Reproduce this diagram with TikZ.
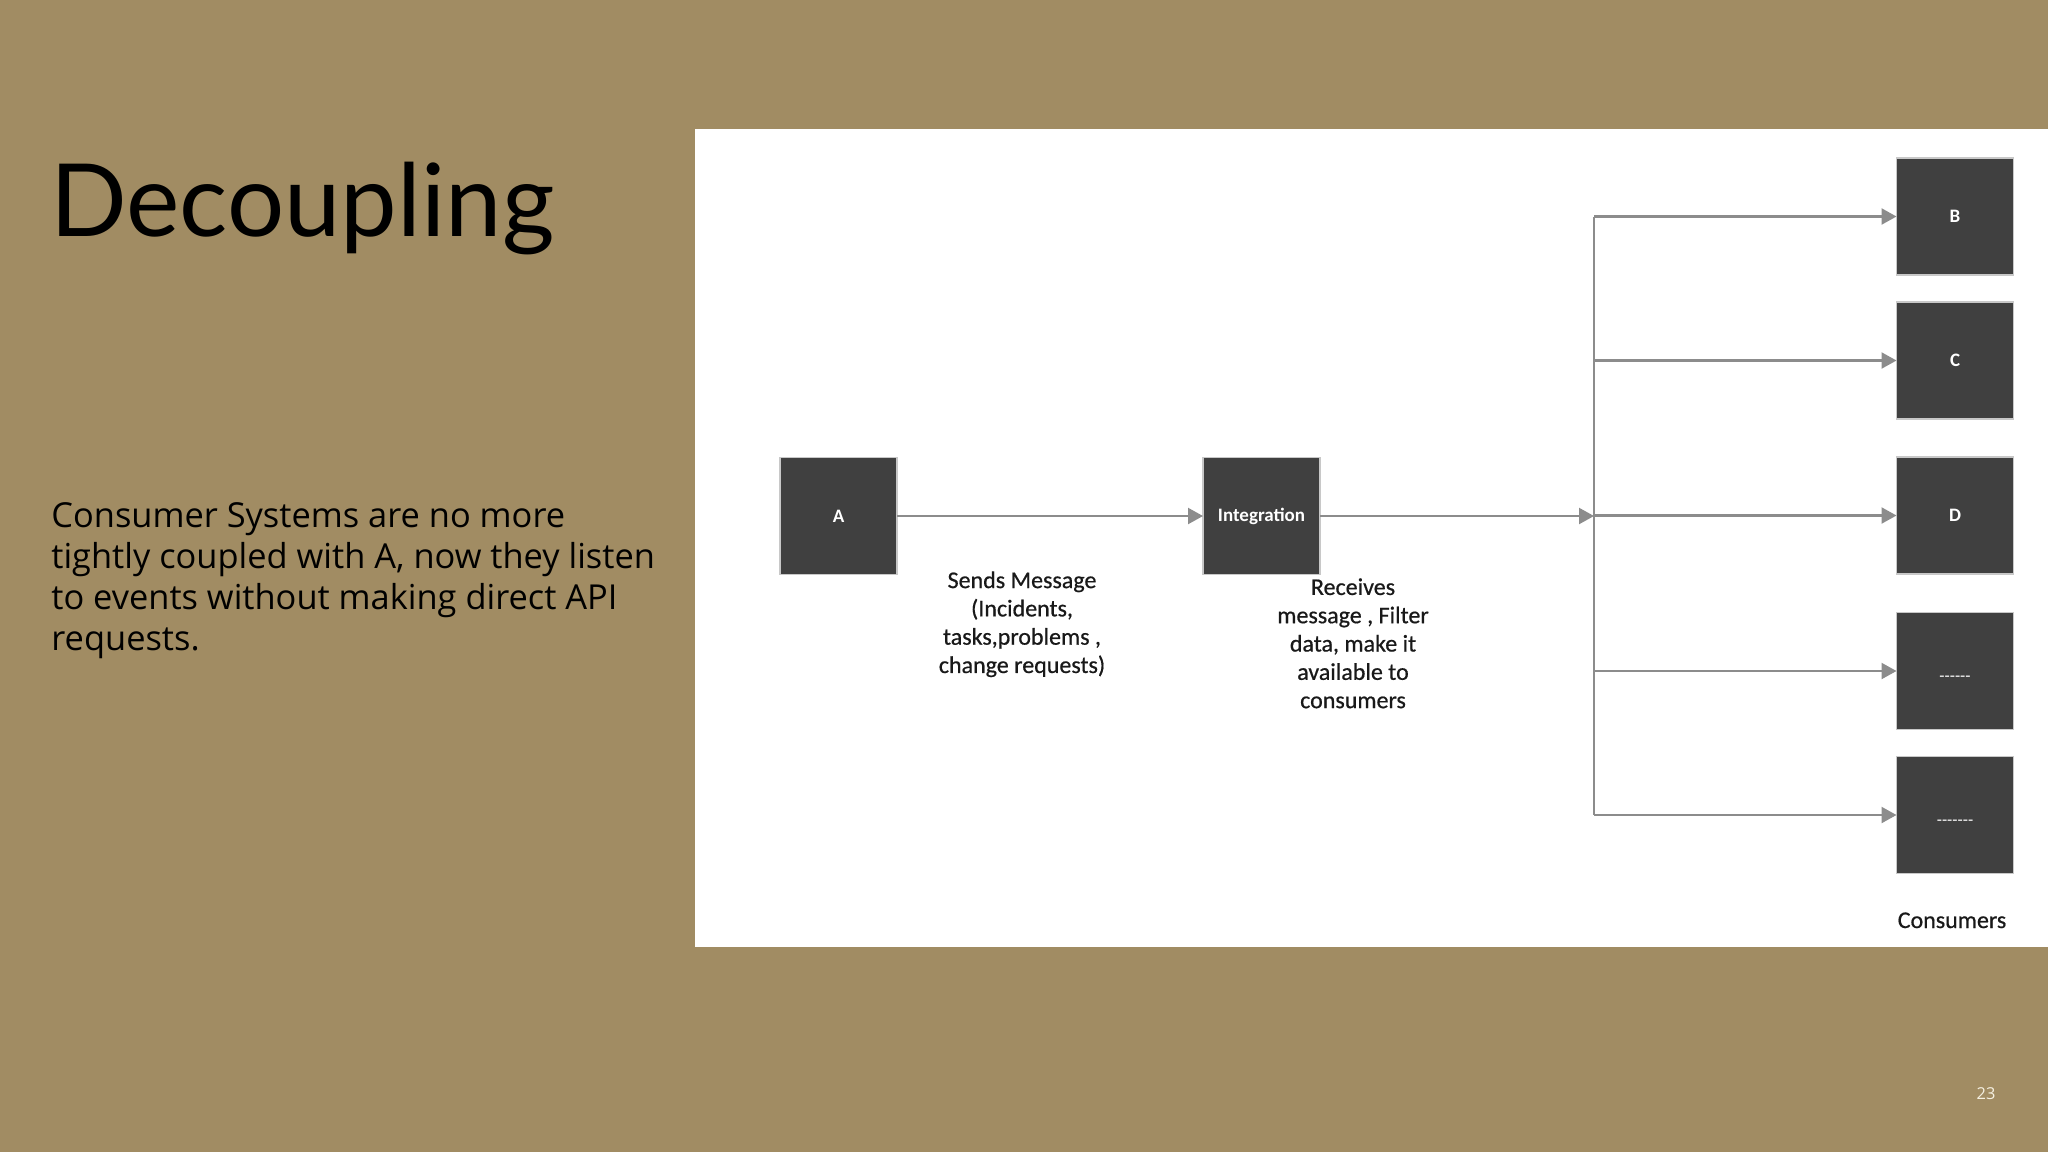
\documentclass[tikz,border=0pt]{standalone}
\usepackage{fontspec}
\setmainfont{Open Sans}
\newfontfamily\titlefont{Lato}
\newfontfamily\carlito{Carlito}
\newfontfamily\carlitolbl[FakeBold=0.6]{Carlito}
\usetikzlibrary{arrows.meta}
\definecolor{slidebg}{RGB}{161,140,99}
\definecolor{boxfill}{RGB}{64,64,64}
\definecolor{boxedge}{RGB}{200,200,200}
\definecolor{linegrey}{RGB}{140,140,140}
\definecolor{labeltext}{RGB}{25,25,25}
\definecolor{pagenum}{RGB}{245,240,225}
\tikzset{
  sysbox/.style={rectangle, fill=boxfill, draw=boxedge, line width=0.6pt,
    minimum width=58.5pt, minimum height=58.5pt, inner sep=0pt, outer sep=0pt,
    text=white, font=\carlito\bfseries\fontsize{9.5}{11}\selectfont},
  dashtext/.style={font=\carlito\fontsize{8.5}{10}\selectfont, text height=10pt, text depth=0pt},
  conn/.style={draw=linegrey, line width=1.1pt, -{Triangle[length=7.5pt,width=8pt]}},
  wire/.style={draw=linegrey, line width=1.1pt},
  lbl/.style={font=\carlitolbl\fontsize{12}{14.15}\selectfont, align=center, inner sep=0pt, text=labeltext}
}
\begin{document}
\begin{tikzpicture}[x=0.5pt,y=-0.5pt]
\useasboundingbox (0,0) rectangle (2048,1152);
\fill[slidebg] (0,0) rectangle (2048,1152);
\fill[white] (695,129) rectangle (2048,947);

\node[anchor=base west, inner sep=0pt, font=\titlefont\fontsize{50.5}{60}\selectfont] (title) at (50,236) {Decoupling};
\node[anchor=north west, inner sep=0pt, align=left, font=\fontsize{17.2}{20.5}\selectfont] (body) at (51,502)
  {Consumer Systems are no more\\tightly coupled with A, now they listen\\to events without making direct API\\requests.};

\node[sysbox] (A) at (838.5,516) {A};
\node[sysbox] (Int) at (1261.5,516) {Integration};
\node[sysbox] (B) at (1955,216.5) {B};
\node[sysbox] (C) at (1955,360.5) {C};
\node[sysbox] (D) at (1955,515.5) {D};
\node[sysbox, dashtext] (E) at (1955,671) {-{}-{}-{}-{}-{}-};
\node[sysbox, dashtext] (F) at (1955,815) {-{}-{}-{}-{}-{}-{}-};

\coordinate (bus) at (1594,516);
\draw[conn] (A.east) -- (Int.west);
\draw[conn] (Int.east) -- (Int.east -| bus);
\draw[wire] (bus |- B.west) -- (bus |- F.west);
\foreach \n in {B,C,D,E,F} \draw[conn] (bus |- \n.west) -- (\n.west);

\node[lbl, anchor=north] (send) at (1022,571) {Sends Message\\(Incidents,\\tasks,problems ,\\change requests)};
\node[lbl, anchor=north] (recv) at (1353,578) {Receives\\message , Filter\\data, make it\\available to\\consumers};
\node[lbl, anchor=base] (cons) at (1952,928) {Consumers};
\node[anchor=base, inner sep=0pt, text=pagenum, font=\fontsize{8.2}{10}\selectfont] (pg) at (1986,1099) {23};
\end{tikzpicture}
\end{document}
